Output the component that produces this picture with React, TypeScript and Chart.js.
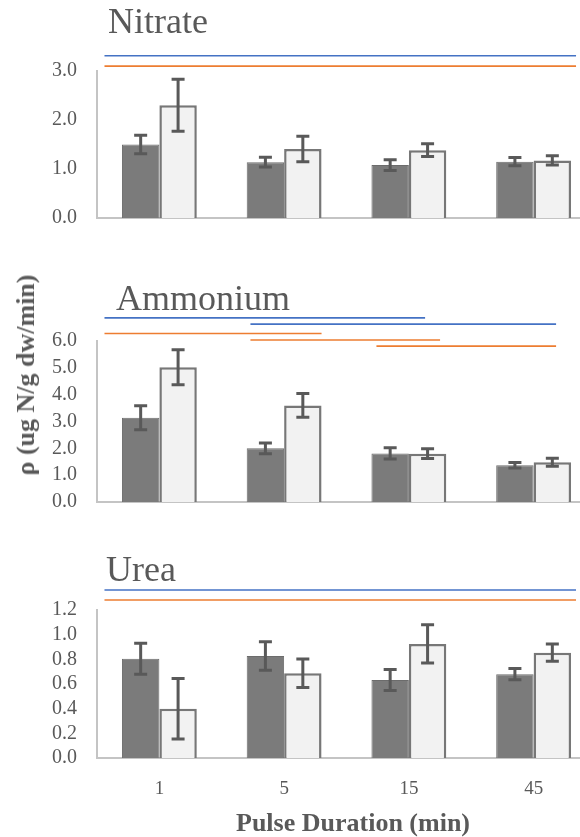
import React, { useEffect, useRef } from "react";
import { Chart, registerables } from "chart.js";

Chart.register(...registerables);

// ---------- data ----------
const categories = ["1", "5", "15", "45"];

const nitrateDark = [1.5, 1.14, 1.08, 1.15];
const nitrateDarkErr = [0.19, 0.1, 0.11, 0.085];
const nitrateLight = [2.3, 1.41, 1.385, 1.175];
const nitrateLightErr = [0.53, 0.26, 0.13, 0.095];

const ammoniumDark = [3.14, 2.0, 1.81, 1.37];
const ammoniumDarkErr = [0.45, 0.2, 0.21, 0.1];
const ammoniumLight = [5.02, 3.6, 1.8, 1.48];
const ammoniumLightErr = [0.65, 0.44, 0.18, 0.15];

const ureaDark = [0.805, 0.827, 0.633, 0.68];
const ureaDarkErr = [0.125, 0.115, 0.085, 0.045];
const ureaLight = [0.4, 0.687, 0.925, 0.854];
const ureaLightErr = [0.245, 0.115, 0.155, 0.07];

// significance bars: category-index span and y level in data units
const nitrateSigFrom = [-0.44, -0.44];
const nitrateSigTo = [3.34, 3.34];
const nitrateSigLevel = [3.31, 3.1];
const nitrateSigKind = ["blue", "orange"];

const ammoniumSigFrom = [-0.44, 0.73, -0.44, 0.73, 1.74];
const ammoniumSigTo = [2.13, 3.18, 1.3, 2.25, 3.18];
const ammoniumSigLevel = [6.86, 6.63, 6.28, 6.04, 5.81];
const ammoniumSigKind = ["blue", "blue", "orange", "orange", "orange"];

const ureaSigFrom = [-0.44, -0.44];
const ureaSigTo = [3.34, 3.34];
const ureaSigLevel = [1.362, 1.281];
const ureaSigKind = ["blue", "orange"];

const nitrateTicks = [0, 1, 2, 3];
const ammoniumTicks = [0, 1, 2, 3, 4, 5, 6];
const ureaTicks = [0, 0.2, 0.4, 0.6, 0.8, 1.0, 1.2];

// ---------- styles ----------
const TEXT = "#595959";
const SERIF = "'Liberation Serif', 'Times New Roman', serif";
const SIG_COLORS: Record<string, string> = { blue: "#4472c4", orange: "#ed7d31" };
const CANVAS_W = 600;
const Y_AXIS_W = 97;
const PLOT_RIGHT = 596;

type Panel = {
  key: string;
  top: number;
  height: number;
  plotTop: number;
  plotBottom: number;
  dark: number[];
  darkErr: number[];
  light: number[];
  lightErr: number[];
  ticks: number[];
  showX: boolean;
  sigFrom: number[];
  sigTo: number[];
  sigLevel: number[];
  sigKind: string[];
};

const panels: Panel[] = [
  {
    key: "nitrate", top: 40, height: 190, plotTop: 71, plotBottom: 218,
    dark: nitrateDark, darkErr: nitrateDarkErr, light: nitrateLight, lightErr: nitrateLightErr,
    ticks: nitrateTicks, showX: false,
    sigFrom: nitrateSigFrom, sigTo: nitrateSigTo, sigLevel: nitrateSigLevel, sigKind: nitrateSigKind,
  },
  {
    key: "ammonium", top: 300, height: 220, plotTop: 341, plotBottom: 502,
    dark: ammoniumDark, darkErr: ammoniumDarkErr, light: ammoniumLight, lightErr: ammoniumLightErr,
    ticks: ammoniumTicks, showX: false,
    sigFrom: ammoniumSigFrom, sigTo: ammoniumSigTo, sigLevel: ammoniumSigLevel, sigKind: ammoniumSigKind,
  },
  {
    key: "urea", top: 575, height: 262, plotTop: 610, plotBottom: 758,
    dark: ureaDark, darkErr: ureaDarkErr, light: ureaLight, lightErr: ureaLightErr,
    ticks: ureaTicks, showX: true,
    sigFrom: ureaSigFrom, sigTo: ureaSigTo, sigLevel: ureaSigLevel, sigKind: ureaSigKind,
  },
];

function PanelChart({ p }: { p: Panel }) {
  const ref = useRef<HTMLCanvasElement | null>(null);
  useEffect(() => {
    if (!ref.current) return;
    const errs = [p.darkErr, p.lightErr];
    const errorBars = {
      id: "errorBars",
      afterDatasetsDraw(chart: any) {
        const ctx = chart.ctx;
        const ys = chart.scales.y;
        ctx.save();
        ctx.strokeStyle = "#595959";
        ctx.lineWidth = 3;
        chart.data.datasets.forEach((ds: any, di: number) => {
          const meta = chart.getDatasetMeta(di);
          meta.data.forEach((el: any, i: number) => {
            const v = ds.data[i];
            const e = errs[di][i];
            const x = el.x;
            const y1 = ys.getPixelForValue(v + e);
            const y2 = ys.getPixelForValue(v - e);
            ctx.beginPath();
            ctx.moveTo(x, y1);
            ctx.lineTo(x, y2);
            ctx.moveTo(x - 6.5, y1);
            ctx.lineTo(x + 6.5, y1);
            ctx.moveTo(x - 6.5, y2);
            ctx.lineTo(x + 6.5, y2);
            ctx.stroke();
          });
        });
        ctx.restore();
      },
    };
    const sigLines = {
      id: "sigLines",
      afterDraw(chart: any) {
        const ctx = chart.ctx;
        const xs = chart.scales.x;
        const ys = chart.scales.y;
        ctx.save();
        ctx.lineWidth = 1.6;
        p.sigLevel.forEach((lv, i) => {
          const y = ys.getPixelForValue(lv);
          ctx.strokeStyle = SIG_COLORS[p.sigKind[i]];
          ctx.beginPath();
          ctx.moveTo(xs.getPixelForValue(p.sigFrom[i]), y);
          ctx.lineTo(xs.getPixelForValue(p.sigTo[i]), y);
          ctx.stroke();
        });
        ctx.restore();
      },
    };
    const chart = new Chart(ref.current, {
      type: "bar",
      data: {
        labels: categories,
        datasets: [
          {
            data: p.dark,
            backgroundColor: "#7b7b7b",
            borderColor: "#6c6c6c",
            borderWidth: 1,
            categoryPercentage: 0.6,
            barPercentage: 1.0,
          },
          {
            data: p.light,
            backgroundColor: "#f2f2f2",
            borderColor: "#777777",
            borderWidth: 2.5,
            categoryPercentage: 0.6,
            barPercentage: 1.0,
          },
        ],
      },
      options: {
        responsive: false,
        animation: false,
        events: [],
        layout: {
          padding: { top: p.plotTop - p.top, right: CANVAS_W - PLOT_RIGHT, left: 0, bottom: 0 },
        },
        plugins: { legend: { display: false }, tooltip: { enabled: false }, title: { display: false } },
        scales: {
          x: {
            type: "category",
            grid: { display: false, drawTicks: false },
            border: { display: true, color: "#c4c4c4", width: 2 },
            ticks: {
              display: p.showX,
              color: TEXT,
              padding: 20,
              font: { family: SERIF, size: 19 },
            },
            afterFit: (s: any) => {
              s.height = p.top + p.height - p.plotBottom;
              s.paddingLeft = 0;
              s.paddingRight = 0;
            },
          },
          y: {
            type: "linear",
            min: 0,
            max: p.ticks[p.ticks.length - 1],
            grid: { display: false, drawTicks: false },
            border: { display: true, color: "#c4c4c4", width: 2 },
            afterBuildTicks: (s: any) => {
              s.ticks = p.ticks.map((v) => ({ value: v }));
            },
            ticks: {
              color: TEXT,
              padding: 20,
              autoSkip: false,
              font: { family: SERIF, size: 20 },
              callback: (v: any) => Number(v).toFixed(1),
            },
            afterFit: (s: any) => {
              s.width = Y_AXIS_W;
              s.paddingTop = 0;
              s.paddingBottom = 0;
            },
          },
        },
      },
      plugins: [errorBars, sigLines],
    } as any);
    return () => chart.destroy();
  }, [p]);
  return (
    <canvas
      ref={ref}
      width={CANVAS_W}
      height={p.height}
      style={{ position: "absolute", left: 0, top: p.top, width: CANVAS_W, height: p.height }}
    />
  );
}

const titleStyle: React.CSSProperties = {
  position: "absolute",
  fontFamily: SERIF,
  fontSize: 36,
  lineHeight: "36px",
  color: TEXT,
  whiteSpace: "nowrap",
};

export default function App() {
  return (
    <div
      style={{
        position: "absolute",
        left: 0,
        top: 0,
        width: 580,
        height: 837,
        overflow: "hidden",
        background: "#ffffff",
      }}
    >
      {panels.map((p) => (
        <PanelChart key={p.key} p={p} />
      ))}
      <div style={{ ...titleStyle, left: 108, top: 3 }}>Nitrate</div>
      <div style={{ ...titleStyle, left: 116, top: 280 }}>Ammonium</div>
      <div style={{ ...titleStyle, left: 106, top: 551 }}>Urea</div>
      <div
        style={{
          position: "absolute",
          left: 26,
          top: 375,
          transform: "translate(-50%, -50%) rotate(-90deg)",
          fontFamily: SERIF,
          fontWeight: "bold",
          fontSize: 26,
          color: TEXT,
          whiteSpace: "nowrap",
        }}
      >
        ρ (ug N/g dw/min)
      </div>
      <div
        style={{
          position: "absolute",
          left: 353,
          top: 823,
          transform: "translate(-50%, -50%)",
          fontFamily: SERIF,
          fontWeight: "bold",
          fontSize: 26,
          color: TEXT,
          whiteSpace: "nowrap",
        }}
      >
        Pulse Duration (min)
      </div>
    </div>
  );
}
